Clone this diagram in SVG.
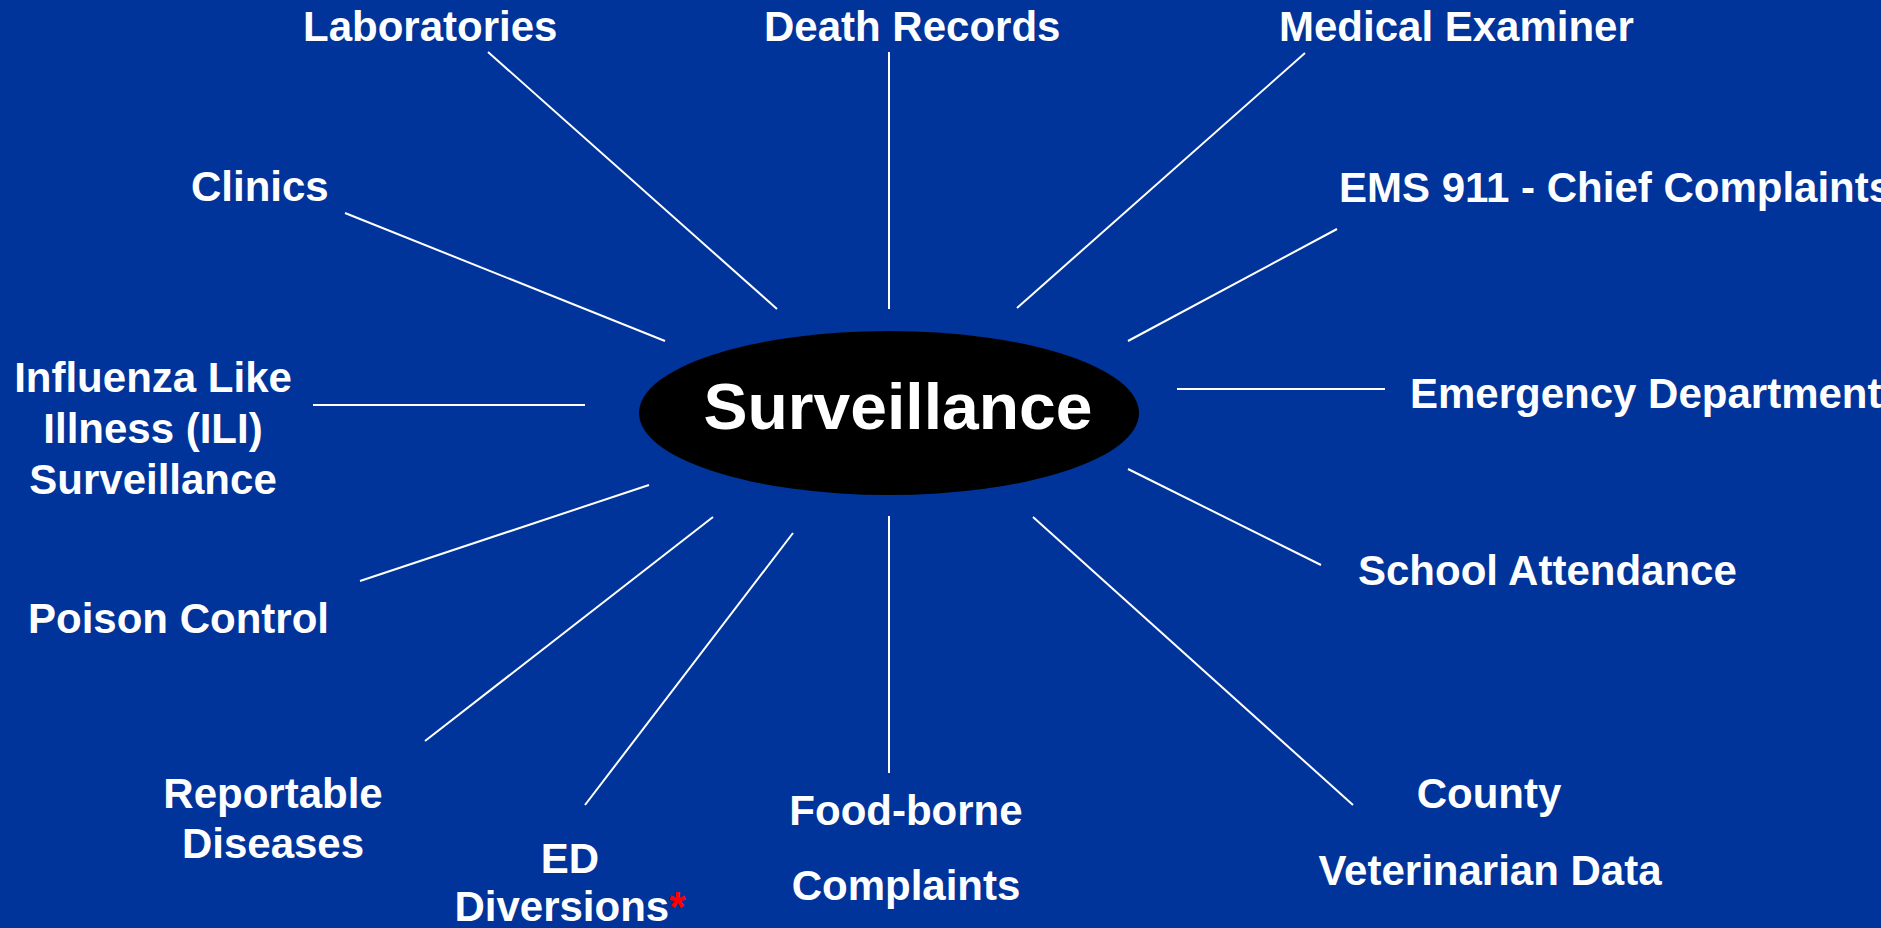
<svg xmlns="http://www.w3.org/2000/svg" width="1881" height="928" viewBox="0 0 1881 928">
<style>
.lbl{font-family:"Liberation Sans",Arial,sans-serif;font-weight:bold;font-size:42px;fill:#ffffff}
.mid{text-anchor:middle}
.ln{stroke:#ffffff;stroke-width:2;fill:none}
.star{fill:#ff0000}
</style>
<rect x="0" y="0" width="1881" height="928" fill="#00349a"/>
<g id="connectors">
<line class="ln" x1="488" y1="52" x2="777" y2="309"/>
<line class="ln" x1="889" y1="52" x2="889" y2="309"/>
<line class="ln" x1="1305" y1="53" x2="1017" y2="308"/>
<line class="ln" x1="1337" y1="229" x2="1128" y2="341"/>
<line class="ln" x1="345" y1="213" x2="665" y2="341"/>
<line class="ln" x1="313" y1="405" x2="585" y2="405"/>
<line class="ln" x1="1177" y1="389" x2="1385" y2="389"/>
<line class="ln" x1="360" y1="581" x2="649" y2="485"/>
<line class="ln" x1="1128" y1="469" x2="1321" y2="565"/>
<line class="ln" x1="713" y1="517" x2="425" y2="741"/>
<line class="ln" x1="793" y1="533" x2="585" y2="805"/>
<line class="ln" x1="889" y1="516" x2="889" y2="773"/>
<line class="ln" x1="1033" y1="517" x2="1353" y2="805"/>
</g>
<g id="center">
<ellipse cx="889" cy="413" rx="250" ry="82" fill="#000000"/>
<text x="898" y="429" text-anchor="middle" style="font-family:'Liberation Sans',Arial,sans-serif;font-weight:bold;font-size:64px;fill:#ffffff" textLength="389" lengthAdjust="spacingAndGlyphs">Surveillance</text>
</g>
<g id="laboratories"><text class="lbl" x="303" y="41">Laboratories</text></g>
<g id="death-records"><text class="lbl" x="764" y="41">Death Records</text></g>
<g id="medical-examiner"><text class="lbl" x="1279" y="41">Medical Examiner</text></g>
<g id="clinics"><text class="lbl" x="191" y="201">Clinics</text></g>
<g id="ems"><text class="lbl" x="1339" y="202">EMS 911 - Chief Complaints</text></g>
<g id="ili">
<text class="lbl mid" x="153" y="392">Influenza Like</text>
<text class="lbl mid" x="153" y="443">Illness (ILI)</text>
<text class="lbl mid" x="153" y="494">Surveillance</text>
</g>
<g id="emergency-department"><text class="lbl" x="1410" y="408">Emergency Department</text></g>
<g id="poison-control"><text class="lbl" x="28" y="633">Poison Control</text></g>
<g id="school-attendance"><text class="lbl" x="1358" y="585">School Attendance</text></g>
<g id="reportable-diseases">
<text class="lbl mid" x="273" y="808">Reportable</text>
<text class="lbl mid" x="273" y="858">Diseases</text>
</g>
<g id="ed-diversions">
<text class="lbl mid" x="570" y="873">ED</text>
<text class="lbl mid" x="570" y="921">Diversions<tspan class="star">*</tspan></text>
</g>
<g id="food-borne">
<text class="lbl mid" x="906" y="825">Food-borne</text>
<text class="lbl mid" x="906" y="900">Complaints</text>
</g>
<g id="county-vet">
<text class="lbl mid" x="1489" y="808">County</text>
<text class="lbl mid" x="1490" y="885">Veterinarian Data</text>
</g>
</svg>
